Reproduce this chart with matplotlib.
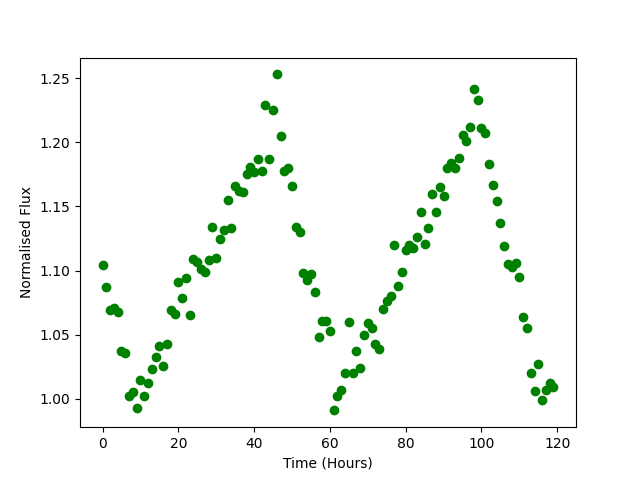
import matplotlib
matplotlib.use("Agg")
import matplotlib.pyplot as plt
import numpy as np

hours = list(range(120))
flux = [
    1.104, 1.087, 1.069, 1.071, 1.068, 1.037, 1.036, 1.002, 1.005, 0.993,
    1.015, 1.002, 1.012, 1.023, 1.033, 1.041, 1.026, 1.043, 1.069, 1.066,
    1.091, 1.079, 1.094, 1.065, 1.109, 1.107, 1.101, 1.099, 1.108, 1.134,
    1.110, 1.125, 1.132, 1.155, 1.133, 1.166, 1.162, 1.161, 1.175, 1.181,
    1.177, 1.187, 1.178, 1.229, 1.187, 1.225, 1.253, 1.205, 1.178, 1.180,
    1.166, 1.134, 1.130, 1.098, 1.093, 1.097, 1.083, 1.048, 1.061, 1.061,
    1.053, 0.991, 1.002, 1.007, 1.020, 1.060, 1.020, 1.037, 1.024, 1.050,
    1.059, 1.055, 1.043, 1.039, 1.070, 1.076, 1.080, 1.120, 1.088, 1.099,
    1.116, 1.120, 1.118, 1.126, 1.146, 1.121, 1.133, 1.160, 1.146, 1.165,
    1.158, 1.180, 1.184, 1.180, 1.188, 1.206, 1.201, 1.212, 1.242, 1.233,
    1.211, 1.207, 1.183, 1.167, 1.154, 1.137, 1.119, 1.105, 1.103, 1.106,
    1.095, 1.064, 1.055, 1.020, 1.006, 1.027, 0.999, 1.007, 1.012, 1.009,
]

fig, ax = plt.subplots(figsize=(6.4, 4.8), dpi=100)
ax.plot(hours, flux, 'o', color='green')
ax.set_xlabel('Time (Hours)')
ax.set_ylabel('Normalised Flux')
fig.savefig('out.png')
